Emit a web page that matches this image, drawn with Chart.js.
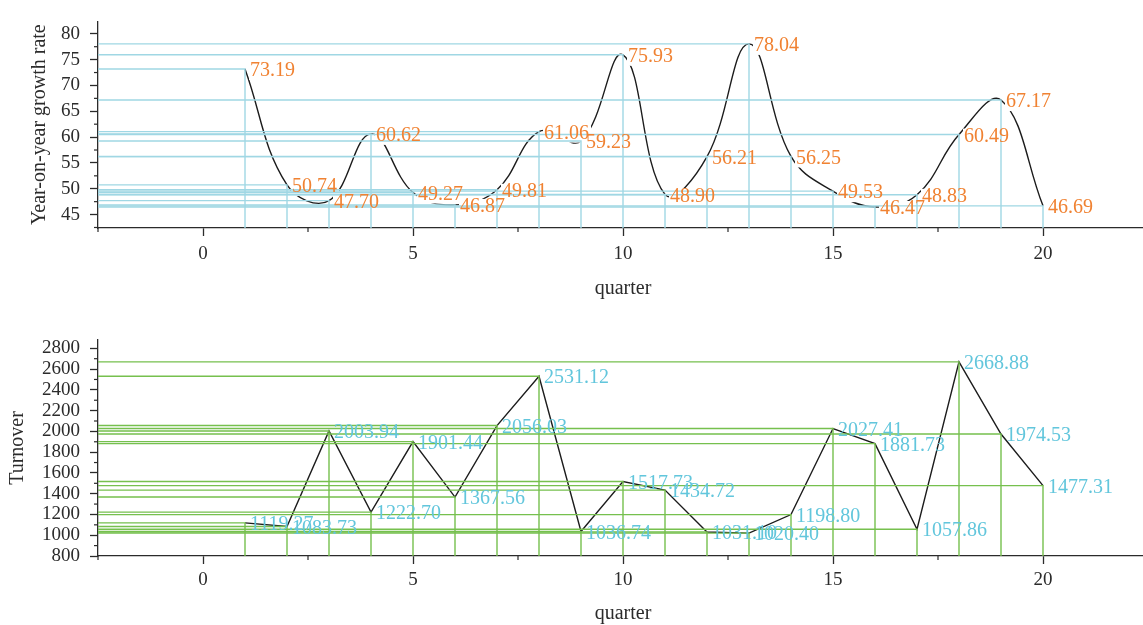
<!DOCTYPE html>
<html>
<head>
<meta charset="utf-8">
<script src="https://cdn.jsdelivr.net/npm/chart.js@4.4.1/dist/chart.umd.min.js"></script>
<style>
  body { margin: 0; background: #fff; overflow: hidden; }
  #growthBox { position: absolute; left: 0; top: 0; width: 1148px; height: 312px; }
  #turnoverBox { position: absolute; left: 0; top: 312px; width: 1148px; height: 315px; }
</style>
</head>
<body>
<div id="growthBox"><canvas id="growthChart"></canvas></div>
<div id="turnoverBox"><canvas id="turnoverChart"></canvas></div>
<script>
var quarters = [1, 2, 3, 4, 5, 6, 7, 8, 9, 10, 11, 12, 13, 14, 15, 16, 17, 18, 19, 20];
var growthRate = [73.19, 50.74, 47.70, 60.62, 49.27, 46.87, 49.81, 61.06, 59.23, 75.93,
                  48.90, 56.21, 78.04, 56.25, 49.53, 46.47, 48.83, 60.49, 67.17, 46.69];
var turnover = [1119.27, 1083.73, 2003.94, 1222.70, 1901.44, 1367.56, 2056.03, 2531.12, 1036.74, 1517.73,
                1434.72, 1031.10, 1020.40, 1198.80, 2027.41, 1881.73, 1057.86, 2668.88, 1974.53, 1477.31];
var quarterTicks = [0, 5, 10, 15, 20];
var quarterMinor = [-2.5, 2.5, 7.5, 12.5, 17.5, 22.5];
var growthTicks = [45, 50, 55, 60, 65, 70, 75, 80];
var growthMinor = [42.5, 47.5, 52.5, 57.5, 62.5, 67.5, 72.5, 77.5, 82.5];
var turnoverTicks = [800, 1000, 1200, 1400, 1600, 1800, 2000, 2200, 2400, 2600, 2800];
var turnoverMinor = [900, 1100, 1300, 1500, 1700, 1900, 2100, 2300, 2500, 2700];

var X_MIN = -2.5, X_MAX = 22.5;
var SERIF = "'Liberation Serif', 'Times New Roman', serif";
var AXIS_COLOR = '#2b2b2b';

// short ticks between the labelled ones
var minorTicksPlugin = {
    id: 'minorTicks',
    afterDraw: function(chart, args, opts) {
        var ctx = chart.ctx;
        ctx.save();
        ctx.strokeStyle = AXIS_COLOR;
        ctx.lineWidth = 1.2;
        ['x', 'y'].forEach(function(id) {
            var scale = chart.scales[id];
            opts[id].forEach(function(v) {
                if (v < scale.min || v > scale.max) return;
                var p = scale.getPixelForValue(v);
                ctx.beginPath();
                if (id === 'x') {
                    ctx.moveTo(p, scale.top);
                    ctx.lineTo(p, scale.top + 4);
                } else {
                    ctx.moveTo(scale.right - 4, p);
                    ctx.lineTo(scale.right, p);
                }
                ctx.stroke();
            });
        });
        ctx.restore();
    }
};

// value text next to each point; optional white knockout of the curve behind the text
var valueLabelsPlugin = {
    id: 'valueLabels',
    afterDatasetDraw: function(chart, args, opts) {
        if (args.index !== 0 || !opts.knockout) return;
        var ctx = chart.ctx, area = chart.chartArea;
        var xs = chart.scales.x, ys = chart.scales.y;
        ctx.save();
        ctx.beginPath();
        ctx.rect(area.left, area.top, area.right - area.left, area.bottom - area.top);
        ctx.clip();
        ctx.font = opts.size + 'px ' + SERIF;
        ctx.fillStyle = '#ffffff';
        opts.values.forEach(function(v, i) {
            var px = xs.getPixelForValue(quarters[i]) + 5;
            var py = ys.getPixelForValue(v) + 2;
            var w = ctx.measureText(v.toFixed(2)).width;
            ctx.fillRect(px - 1, py - 8, w + 3, 17);
        });
        ctx.restore();
    },
    afterDatasetsDraw: function(chart, args, opts) {
        var ctx = chart.ctx;
        var xs = chart.scales.x, ys = chart.scales.y;
        ctx.save();
        ctx.font = opts.size + 'px ' + SERIF;
        ctx.fillStyle = opts.color;
        ctx.textAlign = 'left';
        ctx.textBaseline = 'middle';
        opts.values.forEach(function(v, i) {
            ctx.fillText(v.toFixed(2), xs.getPixelForValue(quarters[i]) + 5, ys.getPixelForValue(v) + 2);
        });
        ctx.restore();
    }
};

function plainNumber(value) {
    return String(value);
}

function buildChart(canvasId, cfg) {
    var datasets = [{
        data: quarters.map(function(q, i) { return { x: q, y: cfg.values[i] }; }),
        borderColor: '#1c1c1c',
        borderWidth: 1.4,
        tension: cfg.tension,
        pointRadius: 0,
        fill: false,
        order: 1
    }];
    // drop lines: horizontal to the y axis, vertical to the x axis
    quarters.forEach(function(q, i) {
        datasets.push({
            data: [{ x: X_MIN, y: cfg.values[i] }, { x: q, y: cfg.values[i] }, { x: q, y: cfg.yMin }],
            borderColor: cfg.dropColor,
            borderWidth: 1.4,
            tension: 0,
            pointRadius: 0,
            fill: false,
            order: 0
        });
    });

    return new Chart(document.getElementById(canvasId), {
        type: 'line',
        data: { datasets: datasets },
        options: {
            responsive: true,
            maintainAspectRatio: false,
            animation: false,
            layout: { padding: { left: 0, right: 0, top: cfg.padTop, bottom: 0 } },
            plugins: {
                legend: { display: false },
                tooltip: { enabled: false },
                minorTicks: { x: quarterMinor, y: cfg.minor },
                valueLabels: { values: cfg.values, color: cfg.labelColor, size: 20, knockout: cfg.knockout }
            },
            scales: {
                x: {
                    type: 'linear',
                    min: X_MIN,
                    max: X_MAX,
                    afterBuildTicks: function(scale) {
                        scale.ticks = quarterTicks.map(function(v) { return { value: v }; });
                    },
                    afterFit: function(scale) { scale.height = cfg.xHeight; },
                    ticks: { font: { family: SERIF, size: 19 }, color: AXIS_COLOR, padding: cfg.xTickPad, maxRotation: 0, autoSkip: false, callback: plainNumber },
                    grid: { drawOnChartArea: false, drawTicks: true, tickLength: 8, tickColor: AXIS_COLOR, tickWidth: 1.3 },
                    border: { display: true, color: AXIS_COLOR, width: 1.3 },
                    title: { display: true, text: 'quarter', font: { family: SERIF, size: 20 }, color: AXIS_COLOR, padding: { top: 0, bottom: cfg.xTitlePad } }
                },
                y: {
                    type: 'linear',
                    min: cfg.yMin,
                    max: cfg.yMax,
                    afterBuildTicks: function(scale) {
                        scale.ticks = cfg.ticks.map(function(v) { return { value: v }; });
                    },
                    afterFit: function(scale) { scale.width = 98; },
                    ticks: { font: { family: SERIF, size: 19 }, color: AXIS_COLOR, padding: 10, autoSkip: false, callback: plainNumber },
                    grid: { drawOnChartArea: false, drawTicks: true, tickLength: 8, tickColor: AXIS_COLOR, tickWidth: 1.3 },
                    border: { display: true, color: AXIS_COLOR, width: 1.3 },
                    title: { display: true, text: cfg.title, font: { family: SERIF, size: 20 }, color: AXIS_COLOR, padding: { top: cfg.yTitlePad, bottom: 0 } }
                }
            }
        },
        plugins: [minorTicksPlugin, valueLabelsPlugin]
    });
}

var growthChart = buildChart('growthChart', {
    values: growthRate,
    ticks: growthTicks,
    minor: growthMinor,
    yMin: 42.4,
    yMax: 82.4,
    tension: 0.4,
    title: 'Year-on-year growth rate',
    dropColor: 'rgb(160, 215, 228)',
    labelColor: 'rgb(240, 130, 50)',
    knockout: true,
    padTop: 12,
    xHeight: 84,
    xTickPad: 7,
    xTitlePad: 11,
    yTitlePad: 28
});

var turnoverChart = buildChart('turnoverChart', {
    values: turnover,
    ticks: turnoverTicks,
    minor: turnoverMinor,
    yMin: 800,
    yMax: 2880,
    tension: 0,
    title: 'Turnover',
    dropColor: 'rgb(118, 192, 78)',
    labelColor: 'rgb(98, 198, 220)',
    knockout: false,
    padTop: 28,
    xHeight: 71,
    xTickPad: 5,
    xTitlePad: 1,
    yTitlePad: 6
});
</script>
</body>
</html>
